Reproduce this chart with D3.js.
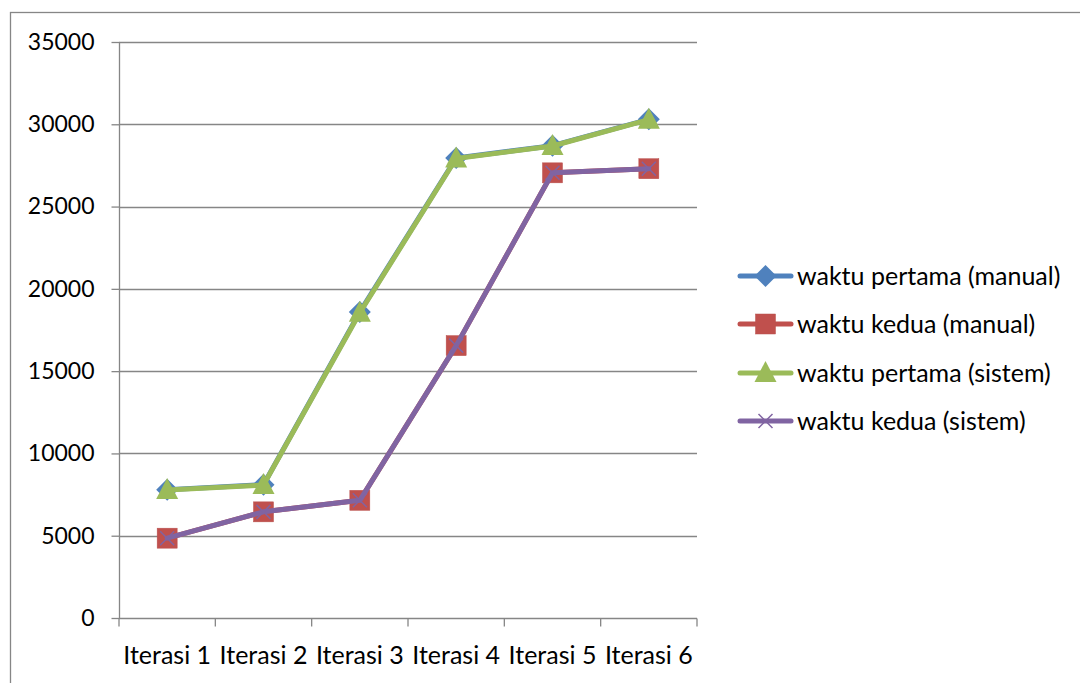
<!DOCTYPE html>
<html><head><meta charset="utf-8">
<script src="https://cdn.jsdelivr.net/npm/d3@7"></script>
<style>html,body{margin:0;padding:0;background:#fff;}svg{display:block;}</style>
</head><body>
<svg id="c" width="1080" height="683"></svg>
<script>
const categories = ["Iterasi 1","Iterasi 2","Iterasi 3","Iterasi 4","Iterasi 5","Iterasi 6"];
const pertamaManual = [7800, 8100, 18600, 27950, 28700, 30300];
const keduaManual   = [4850, 6450, 7150, 16550, 27050, 27300];
const pertamaSistem = [7780, 8080, 18550, 27920, 28680, 30280];
const keduaSistem   = [4850, 6450, 7150, 16550, 27050, 27300];
const yTicks = [0,5000,10000,15000,20000,25000,30000,35000];
const seriesNames = ["waktu pertama (manual)","waktu kedua (manual)","waktu pertama (sistem)","waktu kedua (sistem)"];
const seriesColors = ["#4F81BD","#C0504D","#9BBB59","#8064A2"];
const seriesMarkers = ["diamond","square","triangle","x"];
const seriesValues = [pertamaManual, keduaManual, pertamaSistem, keduaSistem];

const svg = d3.select("#c");
const font = "Lato, 'Open Sans', sans-serif";
const grey = "#868686";

// outer frame
svg.append("rect").attr("x",10.5).attr("y",12.5).attr("width",1200).attr("height",1000)
  .attr("fill","none").attr("stroke",grey).attr("stroke-width",1.3);

const x = d3.scaleBand().domain(categories).range([119,697]).padding(0);
const y = d3.scaleLinear().domain([0,35000]).range([618,42]);

// gridlines
svg.append("g").selectAll("line").data(yTicks.slice(1)).join("line")
  .attr("x1",119).attr("x2",697).attr("y1",d=>Math.round(y(d))+0.5).attr("y2",d=>Math.round(y(d))+0.5)
  .attr("stroke",grey).attr("stroke-width",1.3);

// y axis
const ya = svg.append("g").attr("transform","translate(119.5,0)")
  .call(d3.axisLeft(y).tickValues(yTicks).tickSize(8).tickPadding(17).tickFormat(d3.format("d")));
ya.select(".domain").attr("stroke",grey).attr("stroke-width",1.3).attr("d","M0,"+y(35000)+"V"+y(0));
ya.selectAll(".tick line").attr("stroke",grey).attr("stroke-width",1.3);
ya.selectAll(".tick text").attr("font-family",font).attr("font-size",23).attr("fill","#000");

// x axis
const xa = svg.append("g").attr("transform","translate(0,"+(Math.round(y(0))+0.5)+")")
  .call(d3.axisBottom(x).tickSize(0).tickPadding(28));
xa.select(".domain").attr("stroke",grey).attr("stroke-width",1.3).attr("d","M119,0H697");
xa.selectAll(".tick text").attr("font-family",font).attr("font-size",25).attr("fill","#000").attr("dy","0.71em");
// tick marks at band boundaries
const bounds = categories.map(c=>x(c)).concat([x.range()[1]]);
xa.append("g").selectAll("line").data(bounds).join("line")
  .attr("x1",d=>d).attr("x2",d=>d).attr("y1",0).attr("y2",8).attr("stroke",grey).attr("stroke-width",1.3);

function drawMarker(g, type, color, cx, cy){
  if(type==="diamond"){
    g.append("path").attr("d",`M${cx},${cy-11}L${cx+11},${cy}L${cx},${cy+11}L${cx-11},${cy}Z`)
      .attr("fill",color);
  } else if(type==="square"){
    g.append("rect").attr("x",cx-10).attr("y",cy-10).attr("width",20).attr("height",20)
      .attr("fill",color).attr("stroke","#b9504d").attr("stroke-width",0.5);
  } else if(type==="triangle"){
    g.append("path").attr("d",`M${cx},${cy-12}L${cx+11},${cy+9}L${cx-11},${cy+9}Z`).attr("fill",color);
  } else if(type==="x"){
    g.append("path").attr("d",`M${cx-7},${cy-7}L${cx+7},${cy+7}M${cx+7},${cy-7}L${cx-7},${cy+7}`)
      .attr("stroke",color).attr("stroke-width",1.5).attr("fill","none");
  }
}

const line = d3.line().x((d,i)=>x(categories[i])+x.bandwidth()/2).y(d=>y(d));
seriesValues.forEach((vals,si)=>{
  const g = svg.append("g");
  g.append("path").datum(vals).attr("d",line).attr("fill","none")
    .attr("stroke",seriesColors[si]).attr("stroke-width",5).attr("stroke-linejoin","round").attr("stroke-linecap","round");
  vals.forEach((v,i)=>drawMarker(g, seriesMarkers[si], seriesColors[si], x(categories[i])+x.bandwidth()/2, y(v)));
});

// legend
const legY = [276, 324, 373, 421];
seriesNames.forEach((n,i)=>{
  const g = svg.append("g");
  g.append("line").attr("x1",740).attr("x2",791).attr("y1",legY[i]).attr("y2",legY[i])
    .attr("stroke",seriesColors[i]).attr("stroke-width",5).attr("stroke-linecap","round");
  drawMarker(g, seriesMarkers[i], seriesColors[i], 765.5, legY[i]);
  g.append("text").attr("x",797).attr("y",legY[i]).attr("dy","0.35em")
    .attr("font-family",font).attr("font-size",25).attr("fill","#000").text(n);
});
</script>
</body></html>
